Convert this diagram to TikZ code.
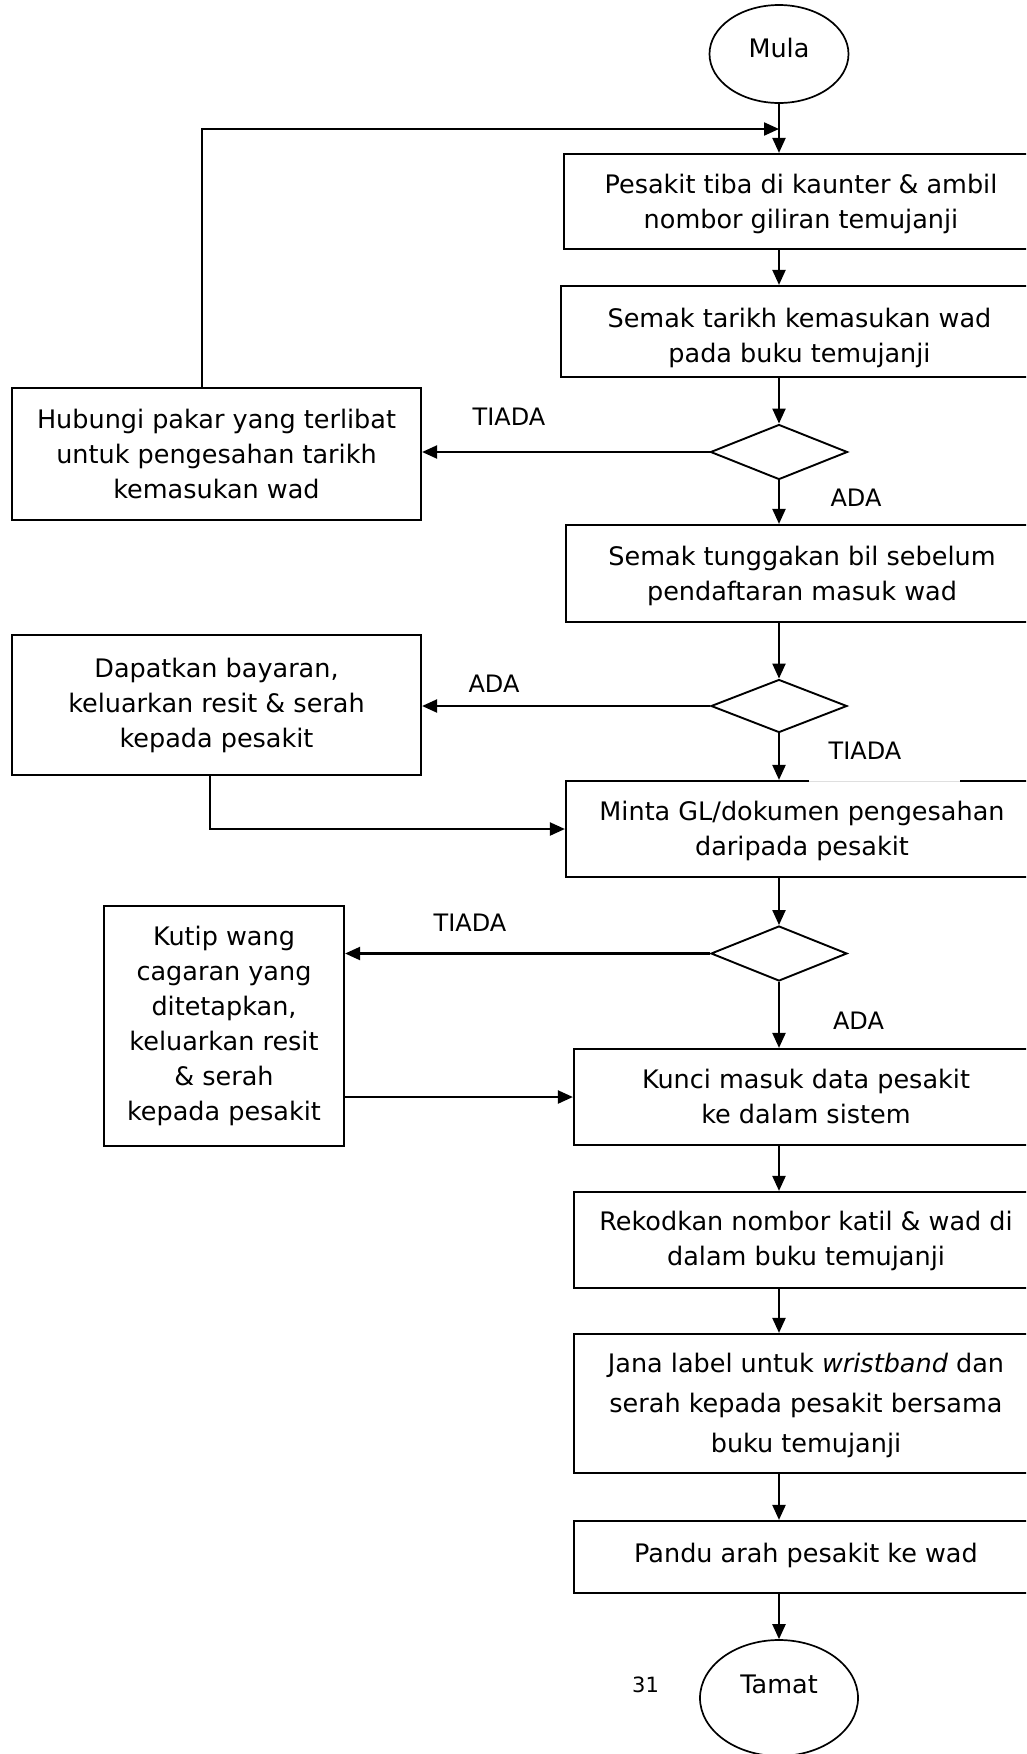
\documentclass[tikz,border=0pt]{standalone}
\usepackage{fontspec}
\setmainfont{DejaVu Sans}
\usetikzlibrary{arrows.meta,shapes.geometric}
\newcommand{\bxt}[2]{\raisebox{#1}[\height][\depth]{\begin{tabular}{@{}c@{}}#2\end{tabular}}}
\begin{document}
\begin{tikzpicture}[x=1pt,y=-1pt,
  box/.style={draw,line width=2.2pt,inner sep=0pt,font=\fontsize{25.5}{35}\selectfont},
  term/.style={draw,ellipse,line width=1.7pt,inner sep=0pt,font=\fontsize{25.5}{35}\selectfont},
  dec/.style={draw,diamond,line width=1.9pt,inner sep=0pt},
  arr/.style={line width=2.2pt,-{Triangle[length=15pt,width=13pt]}},
  lbl/.style={font=\fontsize{24}{28}\selectfont,inner sep=0pt},
]
\useasboundingbox (0,0) rectangle (1026,1754);
\clip (0,0) rectangle (1026,1754);
\fill[white] (0,0) rectangle (1026,1754);
\coordinate (sp) at (779,0);
\coordinate (fbj) at (779,129);

% terminals
\node[term,minimum width=139pt,minimum height=98pt] (mula) at (779,54) {\bxt{4pt}{Mula}};
\node[term,minimum width=158pt,minimum height=116pt] (tamat) at (779,1698) {\bxt{12pt}{Tamat}};

% main column
\node[box,minimum width=474pt,minimum height=95pt] (b1) at (801,201.5)
  {\bxt{-2.5pt}{Pesakit tiba di kaunter \& ambil\\nombor giliran temujanji}};
\node[box,minimum width=477pt,minimum height=91pt] (b2) at (799.5,331.5)
  {\bxt{-6pt}{Semak tarikh kemasukan wad\\pada buku temujanji}};
\node[dec,minimum width=137pt,minimum height=55pt] (d1) at (779,452) {};
\node[box,minimum width=472pt,minimum height=97pt] (b3) at (802,573.5)
  {\bxt{-2pt}{Semak tunggakan bil sebelum\\pendaftaran masuk wad}};
\node[dec,minimum width=136pt,minimum height=53pt] (d2) at (779,706) {};
\node[box,minimum width=472pt,minimum height=96pt] (b4) at (802,829)
  {\bxt{-2pt}{Minta GL/dokumen pengesahan\\daripada pesakit}};
\node[dec,minimum width=136pt,minimum height=55pt] (d3) at (779,953.5) {};
\node[box,minimum width=464pt,minimum height=96pt] (b5) at (806,1097)
  {\bxt{-1.5pt}{Kunci masuk data pesakit\\ke dalam sistem}};
\node[box,minimum width=464pt,minimum height=96pt] (b6) at (806,1240)
  {\bxt{-1pt}{Rekodkan nombor katil \& wad di\\dalam buku temujanji}};
\node[box,minimum width=464pt,minimum height=139pt,font=\fontsize{25.5}{40}\selectfont] (b7) at (806,1403.5)
  {\bxt{-1pt}{Jana label untuk \textit{wristband} dan\\serah kepada pesakit bersama\\buku temujanji}};
\node[box,minimum width=464pt,minimum height=72pt] (b8) at (806,1557)
  {\bxt{2pt}{Pandu arah pesakit ke wad}};

% side boxes
\node[box,minimum width=409pt,minimum height=132pt] (hub) at (216.5,454)
  {\bxt{-2pt}{Hubungi pakar yang terlibat\\untuk pengesahan tarikh\\kemasukan wad}};
\node[box,minimum width=409pt,minimum height=140pt] (dap) at (216.5,705)
  {\bxt{0pt}{Dapatkan bayaran,\\keluarkan resit \& serah\\kepada pesakit}};
\node[box,minimum width=240pt,minimum height=240pt] (kut) at (224,1026)
  {\bxt{0pt}{Kutip wang\\cagaran yang\\ditetapkan,\\keluarkan resit\\\& serah\\kepada pesakit}};

% gap in top edge of b4 under the label
\fill[white] (809,778) rectangle (960,784.5);
\draw[gray!25,line width=0.6pt] (809,781) -- (960,781);

% connectors
\draw[arr] (mula.south) -- (mula.south |- b1.north);
\draw[arr] ([xshift=-14.5pt]hub.north) |- (fbj);
\draw[arr] (b1.south -| sp) -- (b2.north -| sp);
\draw[arr] (b2.south -| sp) -- (d1.north);
\draw[arr] (d1.west) -- (d1.west -| hub.east);
\draw[arr] (d1.south) -- (b3.north -| sp);
\draw[arr] (b3.south -| sp) -- (d2.north);
\draw[arr] (d2.west) -- (d2.west -| dap.east);
\draw[arr] (d2.south) -- (b4.north -| sp);
\draw[arr] ([xshift=-6.5pt]dap.south) |- (b4.west);
\draw[arr] (b4.south -| sp) -- (d3.north);
\draw[arr] (d3.west) -- (d3.west -| kut.east);
\draw[arr] (d3.south) -- (b5.north -| sp);
\draw[arr] (kut.east |- b5.west) -- (b5.west);
\draw[arr] (b5.south -| sp) -- (b6.north -| sp);
\draw[arr] (b6.south -| sp) -- (b7.north -| sp);
\draw[arr] (b7.south -| sp) -- (b8.north -| sp);
\draw[arr] (b8.south -| sp) -- (tamat.north);

% labels
\node[lbl] (l1) at (509,417) {TIADA};
\node[lbl] (l2) at (856,498) {ADA};
\node[lbl] (l3) at (494,683.5) {ADA};
\node[lbl] (l4) at (865,751) {TIADA};
\node[lbl] (l5) at (470,922.5) {TIADA};
\node[lbl] (l6) at (858.5,1020.5) {ADA};
\node[font=\fontsize{21}{24}\selectfont,inner sep=0pt] (pg) at (645.5,1685) {31};
\end{tikzpicture}
\end{document}
